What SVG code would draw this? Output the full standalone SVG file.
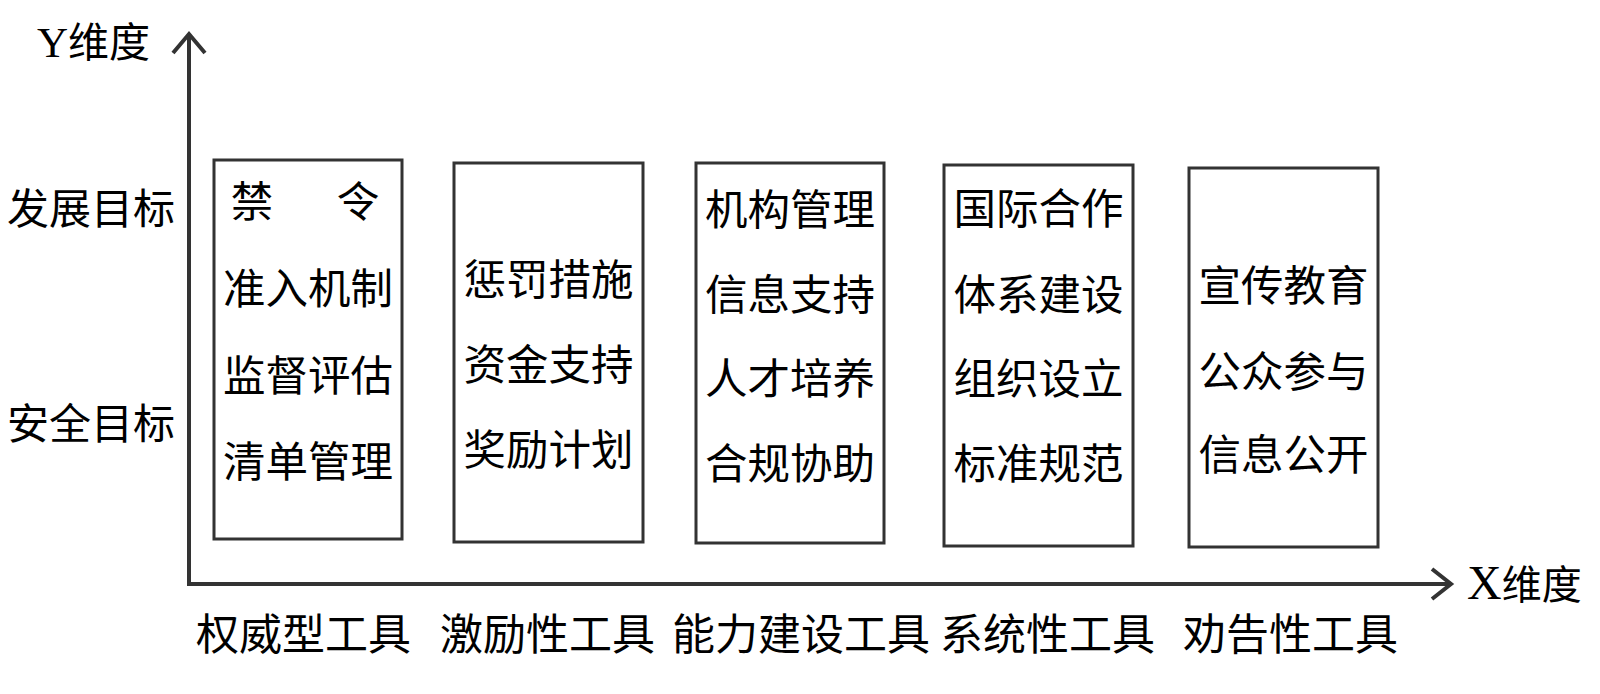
<svg xmlns="http://www.w3.org/2000/svg" width="1600" height="694" viewBox="0 0 1600 694">
  <style>
    .cn { font-family: "Noto Sans CJK SC", "Noto Sans", sans-serif; fill: #000; }
    .box { fill: #fff; stroke: #333; stroke-width: 3; }
    .bt { font-size: 42.5px; text-anchor: middle; }
    .axis { fill: none; stroke: #333; stroke-width: 4; }
    .lbl { font-size: 42px; }
    .tool { font-size: 43px; }
  </style>
  <defs>
    <marker id="chev" markerUnits="userSpaceOnUse" markerWidth="40" markerHeight="40" refX="20" refY="20" orient="auto" viewBox="0 0 40 40">
      <path d="M1,3 L20,20 L1,37" fill="none" stroke="#333" stroke-width="4" stroke-linejoin="miter"/>
    </marker>
  </defs>
  <rect width="1600" height="694" fill="#fff"/>

  <g id="connectors">
    <path class="axis" d="M189,584 L189,35"/>
    <path d="M173,53 L189,34 L205,53" fill="none" stroke="#333" stroke-width="4"/>
    <path class="axis" d="M187,584 L1450,584"/>
    <path d="M1432,569 L1451,584 L1432,599" fill="none" stroke="#333" stroke-width="4"/>
  </g>

  <g id="axis-y-label">
    <text class="cn" x="37" y="57" font-size="41"><tspan font-family="Liberation Serif, serif" font-size="43">Y</tspan>维度</text>
  </g>
  <g id="axis-x-label">
    <text class="cn" x="1467" y="599" font-size="40"><tspan font-family="Liberation Serif, serif" font-size="48">X</tspan>维度</text>
  </g>

  <g id="y-labels">
    <text class="cn lbl" x="7" y="224">发展目标</text>
    <text class="cn lbl" x="7" y="439">安全目标</text>
  </g>

  <g id="box-authority">
    <rect class="box" x="214" y="160" width="188" height="379"/>
    <text class="cn bt" x="252" y="217">禁</text>
    <text class="cn bt" x="358" y="217">令</text>
    <text class="cn bt" x="308" y="304">准入机制</text>
    <text class="cn bt" x="308" y="391">监督评估</text>
    <text class="cn bt" x="308" y="477">清单管理</text>
  </g>

  <g id="box-incentive">
    <rect class="box" x="454" y="163" width="189" height="379"/>
    <text class="cn bt" x="548.5" y="295">惩罚措施</text>
    <text class="cn bt" x="548.5" y="380">资金支持</text>
    <text class="cn bt" x="548.5" y="465">奖励计划</text>
  </g>

  <g id="box-capacity">
    <rect class="box" x="696" y="163" width="188" height="380"/>
    <text class="cn bt" x="790" y="225">机构管理</text>
    <text class="cn bt" x="790" y="310">信息支持</text>
    <text class="cn bt" x="790" y="394">人才培养</text>
    <text class="cn bt" x="790" y="479">合规协助</text>
  </g>

  <g id="box-system">
    <rect class="box" x="944" y="165" width="189" height="381"/>
    <text class="cn bt" x="1038.5" y="224">国际合作</text>
    <text class="cn bt" x="1038.5" y="310">体系建设</text>
    <text class="cn bt" x="1038.5" y="394">组织设立</text>
    <text class="cn bt" x="1038.5" y="479">标准规范</text>
  </g>

  <g id="box-exhortation">
    <rect class="box" x="1189" y="168" width="189" height="379"/>
    <text class="cn bt" x="1283.5" y="301">宣传教育</text>
    <text class="cn bt" x="1283.5" y="387">公众参与</text>
    <text class="cn bt" x="1283.5" y="470">信息公开</text>
  </g>

  <g id="x-labels">
    <text class="cn tool" x="196" y="650">权威型工具</text>
    <text class="cn tool" x="440" y="650">激励性工具</text>
    <text class="cn tool" x="672" y="650">能力建设工具</text>
    <text class="cn tool" x="940" y="650">系统性工具</text>
    <text class="cn tool" x="1183" y="650">劝告性工具</text>
  </g>
</svg>
